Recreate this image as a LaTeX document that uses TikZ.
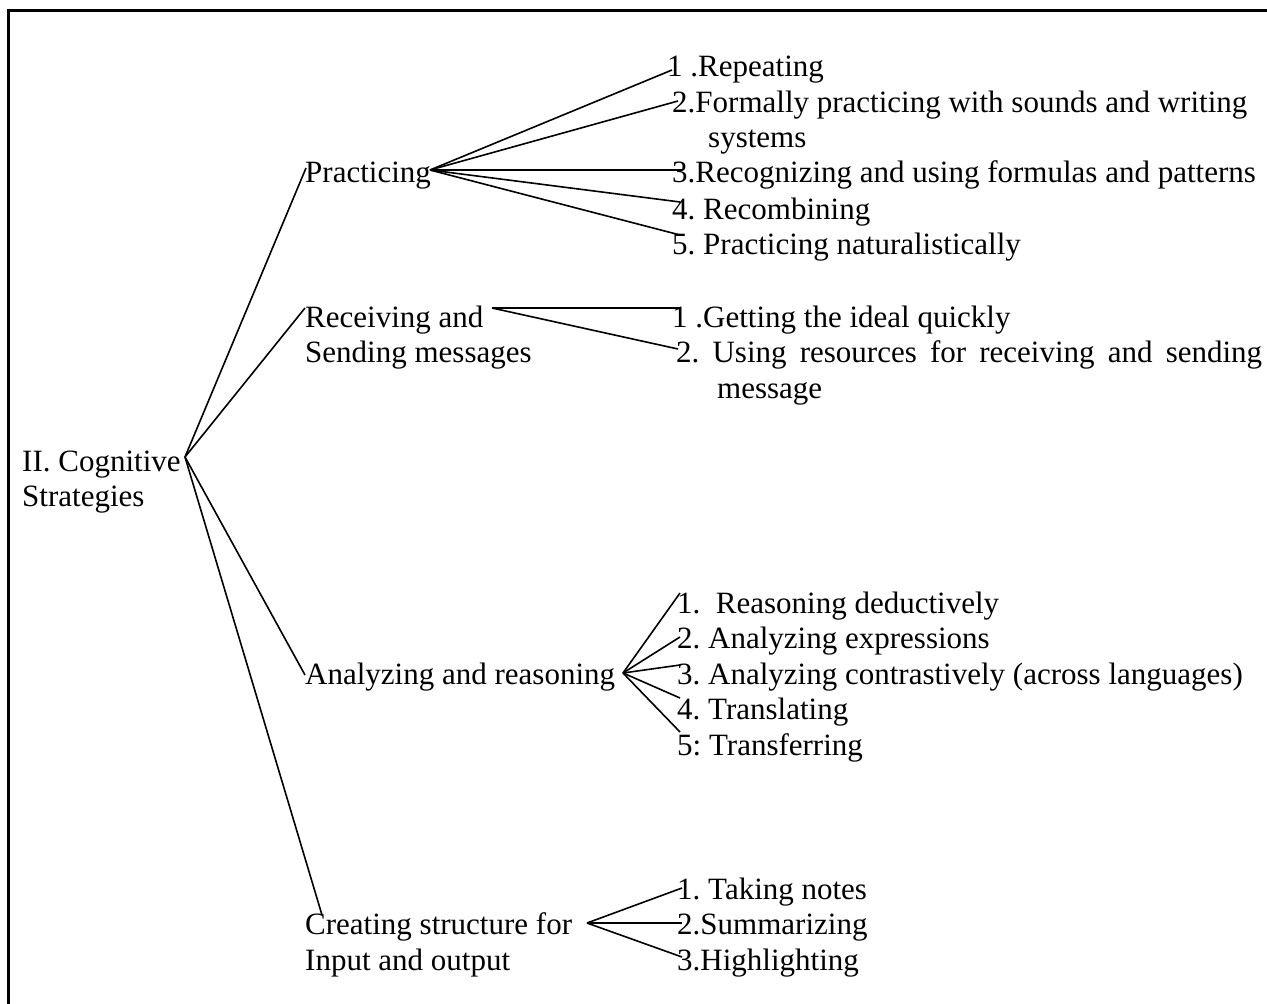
\documentclass[tikz,border=0pt]{standalone}
\usepackage{fontspec}
\setmainfont{Liberation Serif}
\frenchspacing
\tikzset{
  lbl/.style={anchor=base west, inner sep=0pt, font=\fontsize{31}{36}\selectfont},
  con/.style={line width=1.6pt},
  framestyle/.style={line width=3pt}
}
\begin{document}
\begin{tikzpicture}[x=1pt,y=-1pt]
\useasboundingbox (0,0) rectangle (1267,1004);
% frame
\coordinate (FT) at (8,10);
\coordinate (FR) at (1267,10);
\coordinate (FB) at (8,1004);
\draw[framestyle] (FR) -- (FT) -- (FB);

% root
\node[lbl] (root1) at (22,471) {II. Cognitive};
\node[lbl] (root2) at (22,506) {Strategies};
\coordinate (J0) at (185,457);

% Practicing
\node[lbl] (prac) at (305,182) {Practicing};
\coordinate (Jp) at (430,170);
\coordinate (Ep) at (306,168);
\node[lbl] (p1) at (667,76) {1 .Repeating};
\node[lbl] (p2) at (672,112) {2.Formally practicing with sounds and writing};
\node[lbl] (p2b) at (708,147) {systems};
\node[lbl] (p3) at (672,182) {3.Recognizing and using formulas and patterns};
\node[lbl] (p4) at (672,219) {4. Recombining};
\node[lbl] (p5) at (672,254) {5. Practicing naturalistically};
\coordinate (Ep1) at (672,70);
\coordinate (Ep2) at (678,101);
\coordinate (Ep3) at (682,170);
\coordinate (Ep4) at (680,202);
\coordinate (Ep5) at (680,235);

% Receiving
\node[lbl] (rec1) at (305,327) {Receiving and};
\node[lbl] (rec2) at (305,362) {Sending messages};
\coordinate (Er) at (305,308);
\coordinate (Jr) at (492,308);
\node[lbl] (r1) at (672,327) {1 .Getting the ideal quickly};
\node[lbl] (r2) at (676,362) {\makebox[586pt][s]{2. Using resources for receiving and sending}};
\node[lbl] (r2b) at (717,398) {message};
\coordinate (Er1) at (680,308);
\coordinate (Er2) at (678,349);

% Analyzing
\node[lbl] (ana) at (305,684) {Analyzing and reasoning};
\coordinate (Ea) at (305,675);
\coordinate (Ja) at (623,673);
\node[lbl] (a1) at (677,613) {1.\ \ Reasoning deductively};
\node[lbl] (a2) at (677,648) {2. Analyzing expressions};
\node[lbl] (a3) at (677,684) {3. Analyzing contrastively (across languages)};
\node[lbl] (a4) at (677,719) {4. Translating};
\node[lbl] (a5) at (677,755) {5: Transferring};
\coordinate (Ea1) at (680,593);
\coordinate (Ea2) at (680,637);
\coordinate (Ea3) at (680,665);
\coordinate (Ea4) at (680,698);
\coordinate (Ea5) at (680,732);

% Creating
\node[lbl] (cre1) at (305,934) {Creating structure for};
\node[lbl] (cre2) at (305,970) {Input and output};
\coordinate (Ec) at (322,915);
\coordinate (Jc) at (587,923);
\node[lbl] (c1) at (677,899) {1. Taking notes};
\node[lbl] (c2) at (677,934) {2.Summarizing};
\node[lbl] (c3) at (677,970) {3.Highlighting};
\coordinate (Ec1) at (682,888);
\coordinate (Ec2) at (682,923);
\coordinate (Ec3) at (682,957);

% connectors
\draw[con] (J0) -- (Ep);
\draw[con] (J0) -- (Er);
\draw[con] (J0) -- (Ea);
\draw[con] (J0) -- (Ec);
\foreach \i in {1,...,5} \draw[con] (Jp) -- (Ep\i);
\foreach \i in {1,2} \draw[con] (Jr) -- (Er\i);
\foreach \i in {1,...,5} \draw[con] (Ja) -- (Ea\i);
\foreach \i in {1,2,3} \draw[con] (Jc) -- (Ec\i);
\end{tikzpicture}
\end{document}
